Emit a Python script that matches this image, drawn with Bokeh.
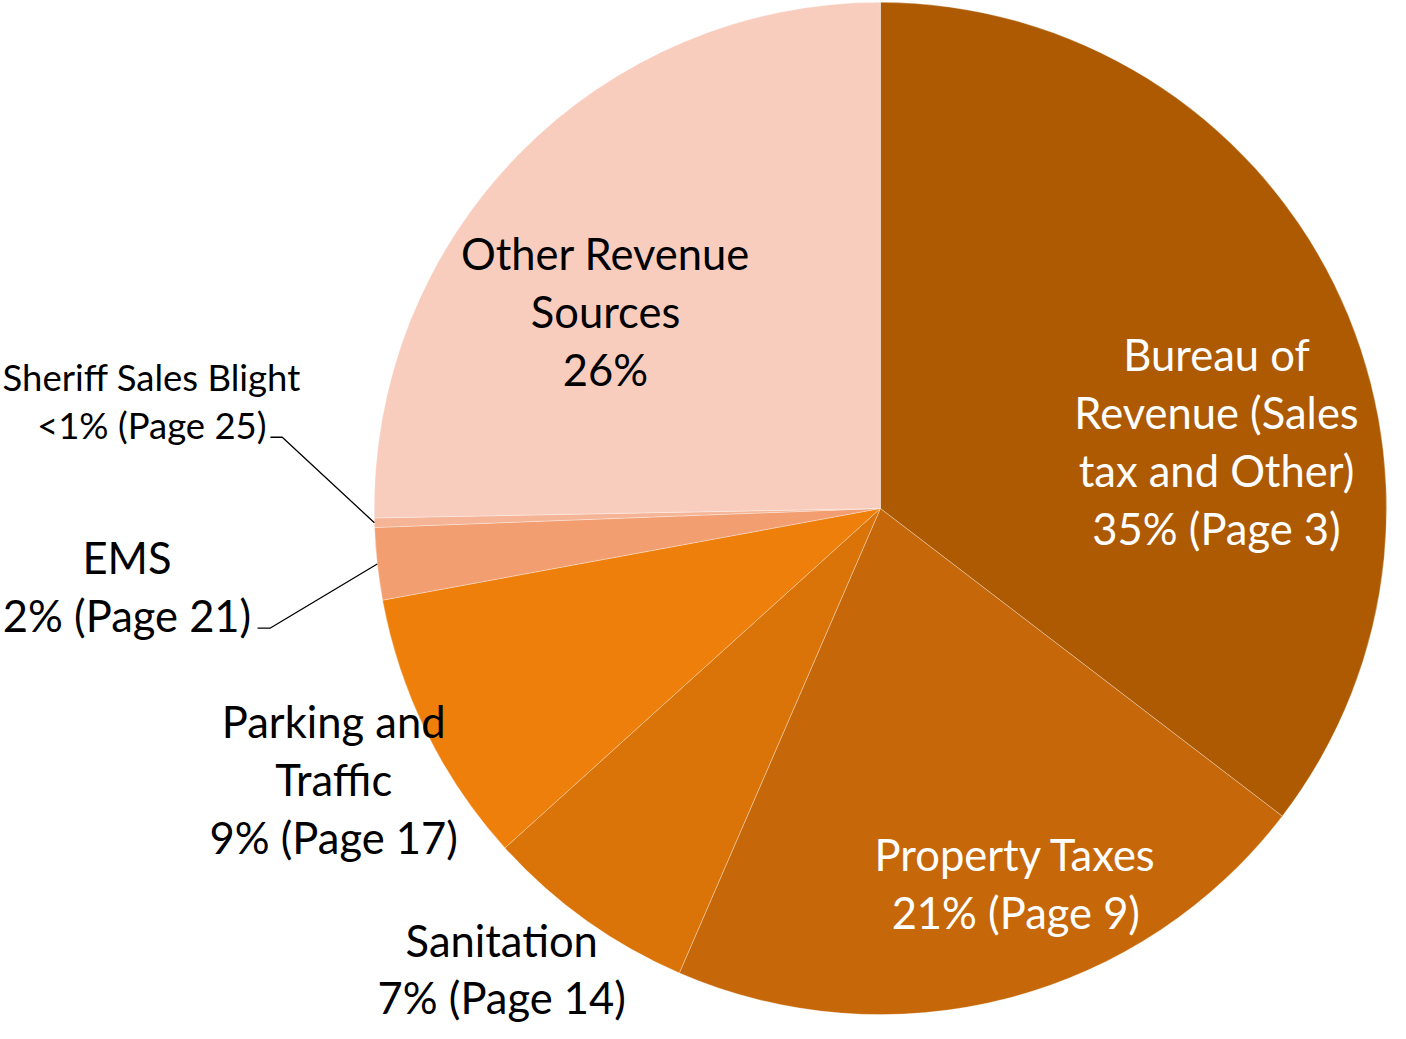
import math
from bokeh.plotting import figure
from bokeh.models import Range1d
from bokeh.core.properties import value
from bokeh.embed import file_html
from bokeh.resources import INLINE

# ---- data ----
categories = ["Bureau of Revenue (Sales tax and Other)", "Property Taxes", "Sanitation",
              "Parking and Traffic", "EMS", "Sheriff Sales Blight", "Other Revenue Sources"]
shares = [35.4, 21.1, 6.8, 8.8, 2.3, 0.3, 25.3]
label_lines = [
    ["Bureau of", "Revenue (Sales", "tax and Other)", "35% (Page 3)"],
    ["Property Taxes", "21% (Page 9)"],
    ["Sanitation", "7% (Page 14)"],
    ["Parking and", "Traffic", "9% (Page 17)"],
    ["EMS", "2% (Page 21)"],
    ["Sheriff Sales Blight", "<1% (Page 25)"],
    ["Other Revenue", "Sources", "26%"],
]

# ---- styles / layout ----
colors = ["#AD5A03", "#C6680A", "#DB7408", "#EF7F0B", "#F29E70", "#F5B496", "#F8CDBE"]
text_colors = ["white", "white", "black", "black", "black", "black", "black"]
label_x = [1230, 1027, 507, 337, 128, 153, 612]
label_y0 = [360, 866, 953, 731, 565, 383, 258]
line_gap = [58.5, 58.5, 57.5, 58.5, 58.5, 49, 58.5]
font_px = [43.5, 43.5, 43.5, 43.5, 43.5, 36.5, 43.5]
FONT = "Lato"

cx, cy, R = 890, -516, 512

p = figure(width=1390, height=1023, output_backend="svg", toolbar_location=None,
           x_range=Range1d(0, 1406), y_range=Range1d(-1037, -2.2),
           min_border=0, outline_line_color=None)
p.axis.visible = False
p.grid.visible = False
p.background_fill_color = "white"

total = sum(shares)
cum = 0.0
mids = []
for s, c in zip(shares, colors):
    a0 = math.pi / 2 - 2 * math.pi * cum / total
    cum += s
    a1 = math.pi / 2 - 2 * math.pi * cum / total
    mids.append((a0 + a1) / 2)
    p.wedge(x=cx, y=cy, radius=R, start_angle=a1, end_angle=a0,
            fill_color=c, line_color="white", line_alpha=0.35, line_width=0.9)

# labels
for i, lines in enumerate(label_lines):
    for j, t in enumerate(lines):
        p.text(x=[label_x[i]], y=[-(label_y0[i] + j * line_gap[i])], text=[t],
               text_align="center", text_baseline="middle",
               text_font=value(FONT), text_font_size=f"{font_px[i]}px",
               text_color=text_colors[i])

# leader lines for small slices (EMS, Sheriff)
elbows = {4: (260, 273, -637), 5: (273, 285, -444)}
for i, (xs, xe, ye) in elbows.items():
    px_ = cx + R * math.cos(mids[i])
    py_ = cy + R * math.sin(mids[i])
    p.line(x=[xs, xe, px_], y=[ye, ye, py_], line_color="black", line_width=1.3)

open("out.html", "w").write(file_html(p, INLINE))
